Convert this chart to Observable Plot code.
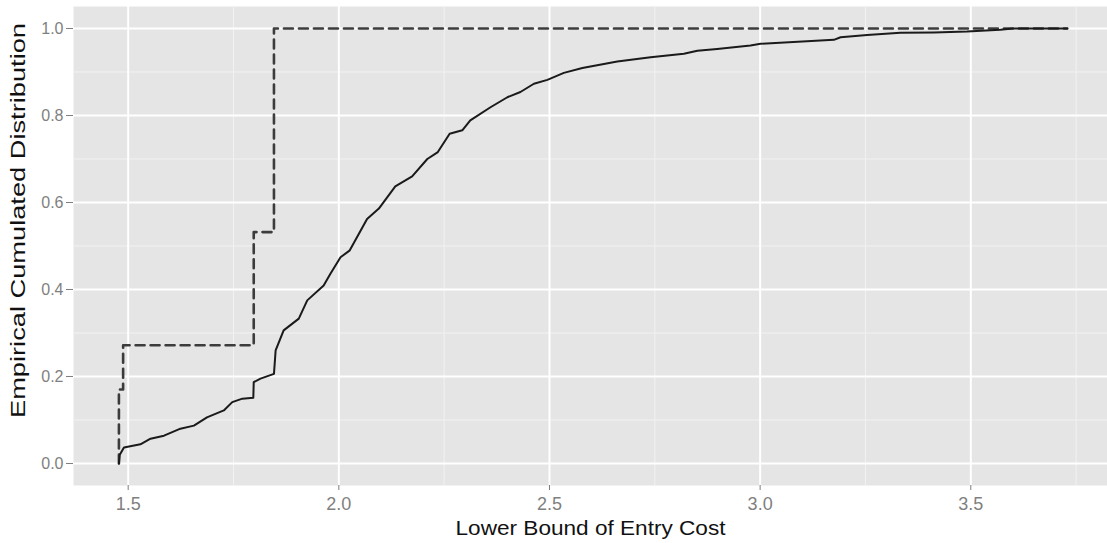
<!DOCTYPE html>
<html><head><meta charset="utf-8">
<script src="https://cdn.jsdelivr.net/npm/d3@7"></script>
<script src="https://cdn.jsdelivr.net/npm/@observablehq/plot@0.6"></script>
<style>html,body{margin:0;padding:0;background:#fff} svg{display:block}</style>
</head><body><div id="chart"></div>
<script>
// ---- data ----
const xTicks = [1.5, 2.0, 2.5, 3.0, 3.5];
const yTicks = [0.0, 0.2, 0.4, 0.6, 0.8, 1.0];
const xMinor = [1.75, 2.25, 2.75, 3.25, 3.75];
const yMinor = [0.1, 0.3, 0.5, 0.7, 0.9];

const solidX = [1.478,1.480,1.490,1.529,1.553,1.585,1.624,1.656,1.687,1.727,1.747,1.771,1.797,1.798,1.814,1.846,1.850,1.869,1.905,1.925,1.964,1.980,2.004,2.026,2.067,2.095,2.134,2.174,2.210,2.235,2.263,2.293,2.312,2.360,2.400,2.431,2.463,2.495,2.534,2.578,2.661,2.740,2.819,2.851,2.898,2.977,3.001,3.175,3.191,3.254,3.333,3.412,3.491,3.570,3.600,3.729];
const solidY = [0.000,0.020,0.037,0.044,0.057,0.064,0.080,0.087,0.106,0.122,0.141,0.149,0.151,0.187,0.195,0.206,0.260,0.306,0.333,0.375,0.409,0.436,0.474,0.490,0.562,0.586,0.637,0.660,0.700,0.716,0.758,0.766,0.789,0.819,0.842,0.854,0.873,0.882,0.898,0.909,0.924,0.934,0.942,0.949,0.953,0.961,0.965,0.974,0.980,0.985,0.990,0.991,0.993,0.997,1.000,1.000];

const dashedX = [1.478, 1.478, 1.488, 1.798, 1.846, 3.729];
const dashedY = [0.000, 0.170, 0.272, 0.532, 1.000, 1.000];

const xTitle = "Lower Bound of Entry Cost";
const yTitle = "Empirical Cumulated Distribution";

// ---- build tables ----
const solid = solidX.map((x, i) => ({x, y: solidY[i]}));
const dashed = dashedX.map((x, i) => ({x, y: dashedY[i]}));

const grey = "#7f7f7f";
const chart = Plot.plot({
  width: 1107,
  height: 543,
  marginLeft: 73,
  marginRight: 0,
  marginTop: 6,
  marginBottom: 58,
  style: {fontFamily: "'Liberation Sans', Arial, sans-serif", background: "#fff"},
  x: {domain: [1.3702, 3.8245]},
  y: {domain: [-0.0506, 1.0506]},
  marks: [
    Plot.frame({fill: "#e5e5e5", stroke: null}),
    Plot.ruleX(xMinor, {stroke: "#f2f2f2", strokeWidth: 1}),
    Plot.ruleY(yMinor, {stroke: "#f2f2f2", strokeWidth: 1}),
    Plot.ruleX(xTicks, {stroke: "#ffffff", strokeWidth: 2}),
    Plot.ruleY(yTicks, {stroke: "#ffffff", strokeWidth: 2}),
    Plot.axisX(xTicks, {tickFormat: d3.format(".1f"), tickSize: 5, tickPadding: 7, fontSize: 18, color: grey, label: null}),
    Plot.axisY(yTicks, {tickFormat: d3.format(".1f"), tickSize: 7, tickPadding: 3, fontSize: 16, color: grey, label: null}),
    Plot.line(dashed, {x: "x", y: "y", curve: "step-after", stroke: "#3c3c3c", strokeWidth: 2.6, strokeDasharray: "9,6"}),
    Plot.line(solid, {x: "x", y: "y", stroke: "#1a1a1a", strokeWidth: 2}),
    Plot.text([xTitle], {frameAnchor: "bottom", text: d => d, dy: 43, fontSize: 21, fill: "#111", lineAnchor: "middle", textAnchor: "middle"}),
    Plot.text([yTitle], {frameAnchor: "left", text: d => d, dx: -54.5, dy: -25.5, rotate: -90, fontSize: 20, fill: "#111", lineAnchor: "middle", textAnchor: "middle"})
  ]
});
document.getElementById("chart").appendChild(chart);
// stretch the axis titles to the lengths seen in the reference
d3.select(chart).selectAll("text").each(function() {
  const t = this.textContent;
  if (t === yTitle) { this.setAttribute("textLength", 395); this.setAttribute("lengthAdjust", "spacingAndGlyphs"); }
  if (t === xTitle) { this.setAttribute("textLength", 270); this.setAttribute("lengthAdjust", "spacingAndGlyphs"); }
});
</script>
</body></html>
